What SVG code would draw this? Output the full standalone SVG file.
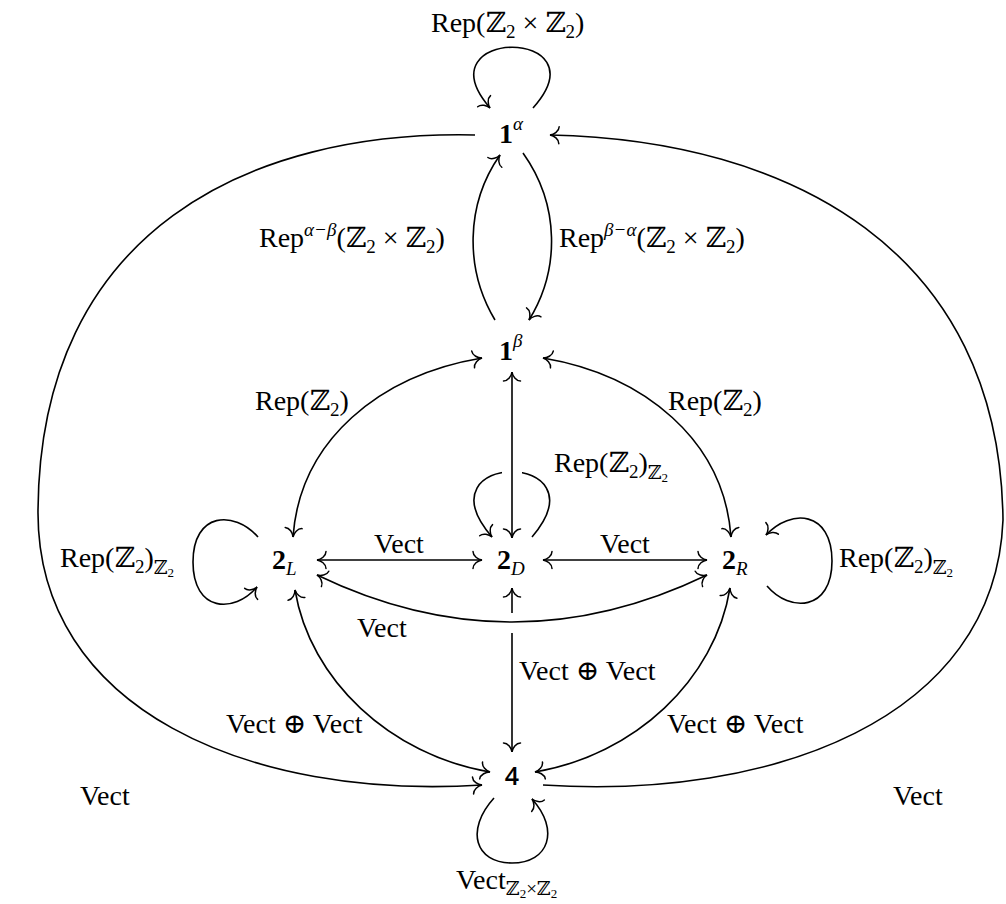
<svg xmlns="http://www.w3.org/2000/svg" width="1006" height="904" viewBox="0 0 1006 904">
<style>
.t{font-family:'Liberation Serif','DejaVu Serif',serif;font-size:28px;fill:#000}
.s{font-size:19px}
.i{font-style:italic}
.b{font-weight:bold}
.four{font-family:'Open Sans','DejaVu Sans',sans-serif;font-size:25px;font-weight:600;fill:#000}
.e{fill:none;stroke:#000;stroke-width:1.6}
.a{marker-end:url(#ah)}
.aa{marker-start:url(#ah);marker-end:url(#ah)}
.halo{stroke:#fff;stroke-width:20;fill:none}
</style>
<defs>
<marker id="ah" viewBox="-12 -12 24 24" markerWidth="24" markerHeight="24" refX="0" refY="0" markerUnits="userSpaceOnUse" orient="auto-start-reverse">
<path d="M -9,-8.5 C -9,-4 -4,-0.6 0,0 C -4,0.6 -9,4 -9,8.5" fill="none" stroke="#000" stroke-width="1.5" stroke-linecap="round"/>
</marker>
</defs>
<rect width="1006" height="904" fill="#fff"/>
<g id="connectors">
<path class="e a" d="M 533,108 C 605,27 420,27 490,108"/>
<path class="e a" d="M 495,320 C 465,270 465,205 500,155"/>
<path class="e a" d="M 523,153 C 560,205 560,270 529,320"/>
<path class="e a" d="M 475,135 C 250,130 40,230 38,510 C 36,710 250,800 482,785"/>
<path class="e a" d="M 543,785 C 770,800 995,720 1003,520 C 1000,250 790,140 550,135"/>
<path class="e aa" d="M 482,358 C 380,375 300,440 293,537"/>
<path class="e aa" d="M 543,358 C 644,375 724,440 731,537"/>
<path class="e a" d="M 532,537 C 606,450 417,450 492,537"/>
<line class="halo" x1="512" y1="465" x2="512" y2="484"/>
<line class="e aa" x1="512" y1="372" x2="512" y2="538"/>
<line class="e aa" x1="317" y1="560" x2="482" y2="560"/>
<line class="e aa" x1="543" y1="560" x2="707" y2="560"/>
<line class="e aa" x1="512" y1="588" x2="512" y2="752"/>
<rect x="504" y="613" width="16" height="20" fill="#fff"/>
<path class="e aa" d="M 317,575 Q 512,669 707,575"/>
<path class="e aa" d="M 295,590 C 310,680 390,755 490,772"/>
<path class="e aa" d="M 730,588 C 715,680 635,755 535,772"/>
<path class="e a" d="M 258,537 C 234,510 193,512 193,562 C 193,612 234,614 257,587"/>
<path class="e a" d="M 767,586 C 790,613 832,611 832,561 C 832,511 791,508 766,535"/>
<path class="e a" d="M 494,798 C 465,830 475,863 512,863 C 549,863 560,830 532,799"/>
</g>
<g id="n1a"><text class="t b" x="499" y="143">1<tspan class="s i" font-weight="normal" dy="-13">α</tspan></text></g>
<g id="n1b"><text class="t b" x="499" y="360">1<tspan class="s i" font-weight="normal" dy="-13">β</tspan></text></g>
<g id="n2L"><text class="t b" x="272" y="569">2<tspan class="s i" font-weight="normal" dy="6">L</tspan></text></g>
<g id="n2D"><text class="t b" x="497" y="569">2<tspan class="s i" font-weight="normal" dy="6">D</tspan></text></g>
<g id="n2R"><text class="t b" x="722" y="569">2<tspan class="s i" font-weight="normal" dy="6">R</tspan></text></g>
<g id="n4"><text class="four" x="512" y="785" text-anchor="middle">4</text></g>
<g id="labels">
<text class="t" x="431" y="32">Rep(ℤ<tspan class="s" dy="6">2</tspan><tspan dy="-6"> × ℤ</tspan><tspan class="s" dy="6">2</tspan><tspan dy="-6">)</tspan></text>
<text class="t" x="259" y="247">Rep<tspan class="s i" dy="-11">α−β</tspan><tspan dy="11">(ℤ</tspan><tspan class="s" dy="6">2</tspan><tspan dy="-6"> × ℤ</tspan><tspan class="s" dy="6">2</tspan><tspan dy="-6">)</tspan></text>
<text class="t" x="559" y="247">Rep<tspan class="s i" dy="-11">β−α</tspan><tspan dy="11">(ℤ</tspan><tspan class="s" dy="6">2</tspan><tspan dy="-6"> × ℤ</tspan><tspan class="s" dy="6">2</tspan><tspan dy="-6">)</tspan></text>
<text class="t" x="255" y="410">Rep(ℤ<tspan class="s" dy="6">2</tspan><tspan dy="-6">)</tspan></text>
<text class="t" x="668" y="410">Rep(ℤ<tspan class="s" dy="6">2</tspan><tspan dy="-6">)</tspan></text>
<text class="t" x="554" y="472">Rep(ℤ<tspan class="s" dy="6">2</tspan><tspan dy="-6">)</tspan><tspan class="s" dy="7">ℤ</tspan><tspan font-size="13" dy="3">2</tspan></text>
<text class="t" x="60" y="567">Rep(ℤ<tspan class="s" dy="6">2</tspan><tspan dy="-6">)</tspan><tspan class="s" dy="7">ℤ</tspan><tspan font-size="13" dy="3">2</tspan></text>
<text class="t" x="839" y="567">Rep(ℤ<tspan class="s" dy="6">2</tspan><tspan dy="-6">)</tspan><tspan class="s" dy="7">ℤ</tspan><tspan font-size="13" dy="3">2</tspan></text>
<text class="t" x="399" y="553" text-anchor="middle">Vect</text>
<text class="t" x="625" y="553" text-anchor="middle">Vect</text>
<text class="t" x="357" y="637">Vect</text>
<text class="t" x="519" y="680">Vect ⊕ Vect</text>
<text class="t" x="226" y="733">Vect ⊕ Vect</text>
<text class="t" x="667" y="733">Vect ⊕ Vect</text>
<text class="t" x="80" y="805">Vect</text>
<text class="t" x="893" y="805">Vect</text>
<text class="t" x="456" y="889">Vect<tspan class="s" dy="6">ℤ</tspan><tspan font-size="13" dy="3">2</tspan><tspan class="s" dy="-3">×ℤ</tspan><tspan font-size="13" dy="3">2</tspan></text>
</g>
</svg>
